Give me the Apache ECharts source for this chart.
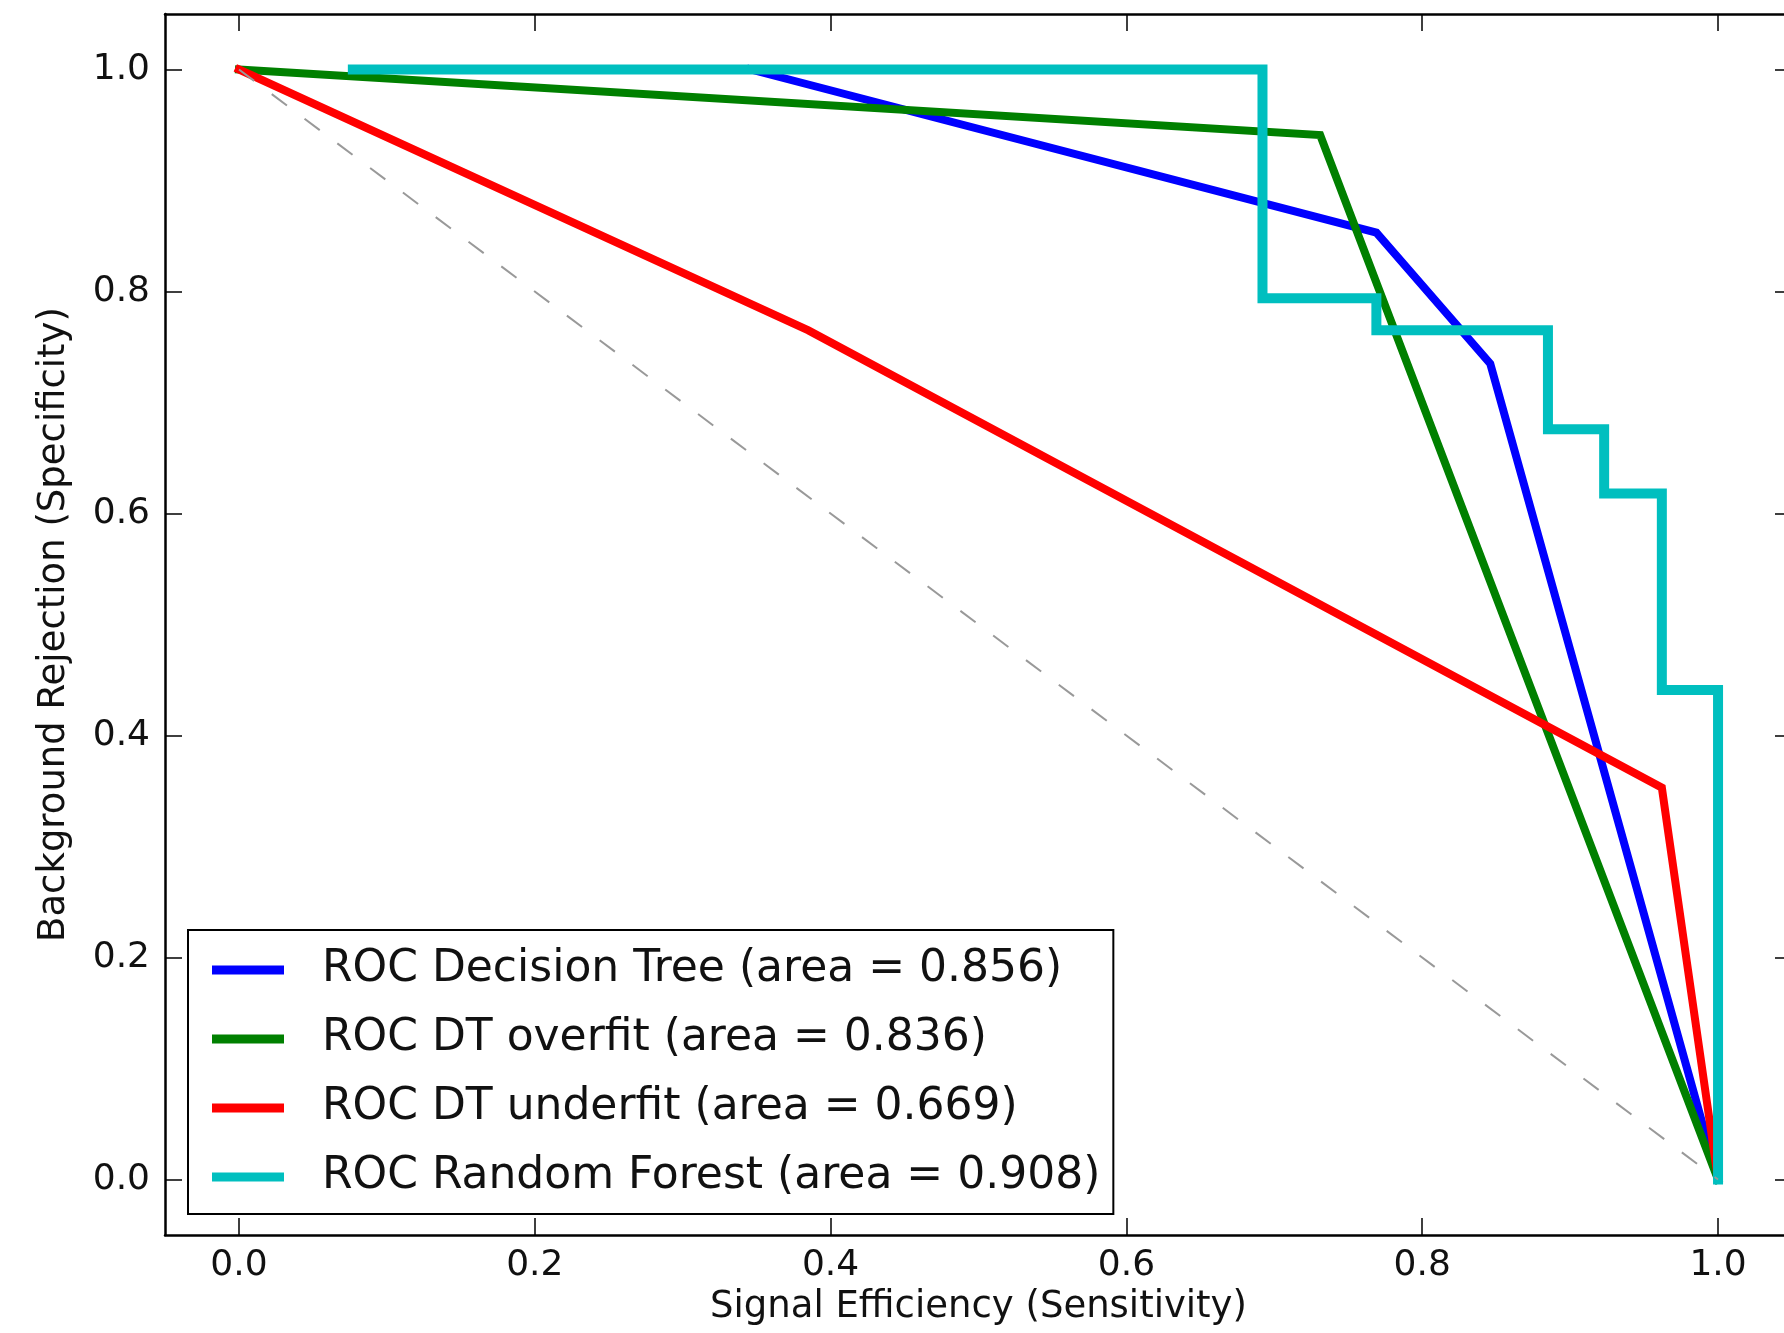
<!DOCTYPE html>
<html>
<head>
<meta charset="utf-8">
<title>ROC curves</title>
<script src="https://cdn.jsdelivr.net/npm/echarts@6/dist/echarts.min.js"></script>
<style>
  html, body { margin: 0; padding: 0; background: #fff; }
  #chart { width: 1784px; height: 1333px; }
</style>
</head>
<body>
<div id="chart"></div>
<script>
// Sensitivity (x) / specificity (y) points of each classifier's ROC curve
const dtSensitivity = [0.346, 0.769, 0.846, 1.0];
const dtSpecificity = [1.0, 0.853, 0.735, 0.0];

const overfitSensitivity = [0.0, 0.731, 1.0];
const overfitSpecificity = [1.0, 0.941, 0.0];

const underfitSensitivity = [0.0, 0.385, 0.962, 1.0];
const underfitSpecificity = [1.0, 0.765, 0.353, 0.0];

const rfSensitivity = [0.077, 0.692, 0.692, 0.769, 0.769, 0.885, 0.885, 0.923, 0.923, 0.962, 0.962, 1.0, 1.0];
const rfSpecificity = [1.0, 1.0, 0.794, 0.794, 0.765, 0.765, 0.676, 0.676, 0.618, 0.618, 0.441, 0.441, 0.0];

// Chance diagonal
const chanceSensitivity = [0.0, 1.0];
const chanceSpecificity = [1.0, 0.0];

const modelNames = ['Decision Tree', 'DT overfit', 'DT underfit', 'Random Forest'];
const modelAreas = [0.856, 0.836, 0.669, 0.908];
const modelColors = ['#0000ff', '#008000', '#ff0000', '#00bfbf'];

const tickValues = [0.0, 0.2, 0.4, 0.6, 0.8, 1.0];

const FONT = 'DejaVu Sans';

function pairs(xs, ys) {
  return xs.map((x, i) => [x, ys[i]]);
}

const legendNames = modelNames.map((m, i) => `ROC ${m} (area = ${modelAreas[i].toFixed(3)})`);
const curves = [
  pairs(dtSensitivity, dtSpecificity),
  pairs(overfitSensitivity, overfitSpecificity),
  pairs(underfitSensitivity, underfitSpecificity),
  pairs(rfSensitivity, rfSpecificity)
];
const curveWidths = [8, 8, 8, 10];

const series = curves.map((data, i) => ({
  name: legendNames[i],
  type: 'line',
  data: data,
  showSymbol: false,
  symbol: 'none',
  silent: true,
  lineStyle: { color: modelColors[i], width: curveWidths[i], cap: 'square', join: 'miter' },
  itemStyle: { color: modelColors[i] }
}));

series.push({
  name: 'chance',
  type: 'line',
  data: pairs(chanceSensitivity, chanceSpecificity),
  showSymbol: false,
  symbol: 'none',
  silent: true,
  lineStyle: { color: '#999999', width: 2, type: [19, 22] }
});

const fmt = v => v.toFixed(1);
const axisLineStyle = { color: '#000', width: 2.5 };
const tickStyle = { color: '#000', width: 1.5 };

function valueAxis(position, withLabels, extra) {
  return Object.assign({
    type: 'value',
    position: position,
    min: -0.05,
    max: 1.05,
    splitLine: { show: false },
    axisLine: { show: true, onZero: false, lineStyle: axisLineStyle },
    axisTick: { show: true, inside: true, length: 17, lineStyle: tickStyle, customValues: tickValues },
    axisLabel: withLabels
      ? { show: true, customValues: tickValues, formatter: fmt, fontFamily: FONT, fontSize: 36, color: '#111' }
      : { show: false }
  }, extra || {});
}

const chart = echarts.init(document.getElementById('chart'), null, { renderer: 'canvas' });

chart.setOption({
  animation: false,
  backgroundColor: '#ffffff',
  grid: {
    left: 165, top: 14, width: 1627, height: 1221,
    containLabel: false,
    outerBoundsMode: 'none'
  },
  legend: {
    data: legendNames,
    orient: 'vertical',
    left: 188,
    top: 930,
    icon: 'rect',
    itemWidth: 72,
    itemHeight: 9,
    itemGap: 25,
    padding: [18, 13, 15, 24],
    backgroundColor: '#ffffff',
    borderColor: '#000000',
    borderWidth: 2,
    borderRadius: 0,
    selectedMode: false,
    z: 10,
    textStyle: { fontFamily: FONT, fontSize: 44, color: '#111', padding: [0, 0, 0, 33] }
  },
  xAxis: [
    valueAxis('bottom', true, {
      name: 'Signal Efficiency (Sensitivity)',
      nameLocation: 'middle',
      nameGap: 54,
      nameTextStyle: { fontFamily: FONT, fontSize: 37, color: '#111' },
      axisLabel: { show: true, customValues: tickValues, formatter: fmt, fontFamily: FONT, fontSize: 36, color: '#111', margin: 13 }
    }),
    valueAxis('top', false)
  ],
  yAxis: [
    valueAxis('left', true, {
      name: 'Background Rejection (Specificity)',
      nameLocation: 'middle',
      nameGap: 92,
      nameTextStyle: { fontFamily: FONT, fontSize: 37, color: '#111' },
      axisLabel: { show: true, customValues: tickValues, formatter: fmt, fontFamily: FONT, fontSize: 36, color: '#111', margin: 15 }
    }),
    valueAxis('right', false)
  ],
  series: series
});
</script>
</body>
</html>
